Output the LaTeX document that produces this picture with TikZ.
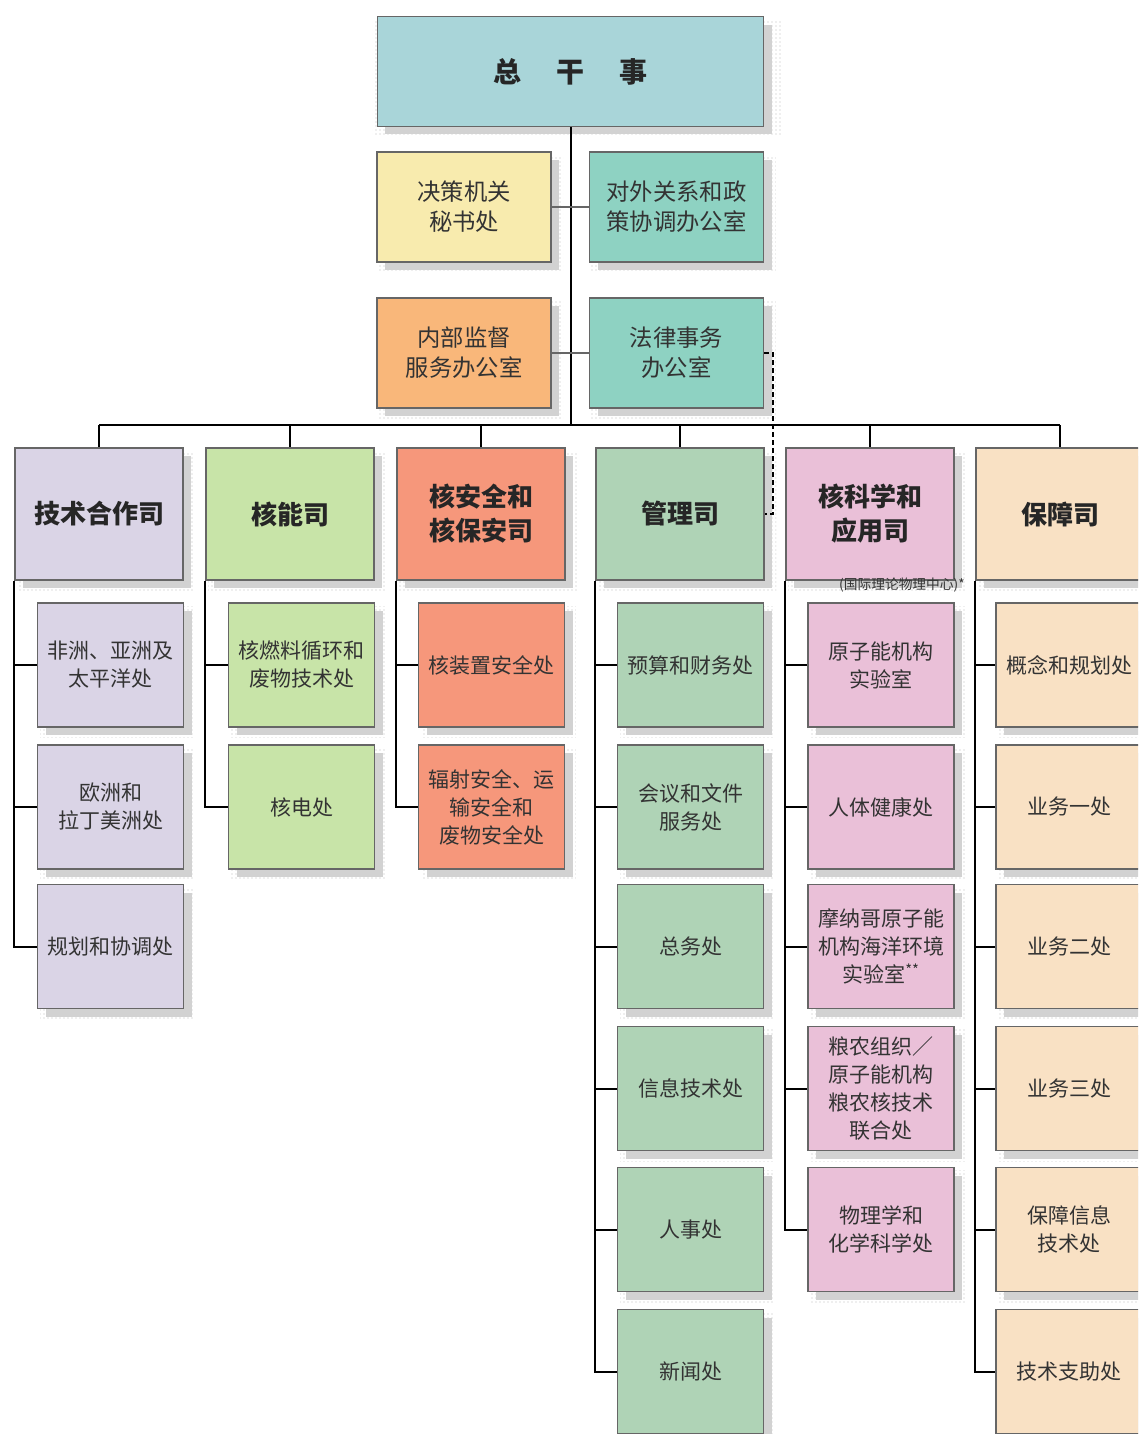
\documentclass[tikz,border=0pt]{standalone}
\usepackage{fontspec}
\setmainfont{Noto Sans CJK SC}
\usetikzlibrary{shadows,patterns}
\definecolor{cGM}{HTML}{A9D5D9}
\definecolor{cSec}{HTML}{F8EBAE}
\definecolor{cExt}{HTML}{8ED2C2}
\definecolor{cIOS}{HTML}{F9B77A}
\definecolor{cTC}{HTML}{DAD4E6}
\definecolor{cNE}{HTML}{C8E4A8}
\definecolor{cNS}{HTML}{F6977B}
\definecolor{cMT}{HTML}{AFD3B6}
\definecolor{cNA}{HTML}{EAC0D8}
\definecolor{cSG}{HTML}{F9E1C4}
\definecolor{cLine}{HTML}{666666}
\definecolor{cTxt}{HTML}{333333}
\begin{document}
\begin{tikzpicture}[x=0.75pt,y=-0.75pt,
  box/.style={draw=cLine, line width=0.9pt, inner sep=2pt, align=center, text=cTxt,
    general shadow={shadow scale=1.06, shadow xshift=5pt, shadow yshift=-5pt, pattern=dots, pattern color=gray!55},
    drop shadow={shadow xshift=6pt, shadow yshift=-6pt, fill=gray!35, opacity=1}},
  topbox/.style={box, minimum width=130.5pt, minimum height=82.5pt, font=\fontsize{17.5}{22.5}\selectfont},
  dept/.style={box, text=black!85, minimum width=126pt, minimum height=99pt, font=\fontsize{19.5}{25.5}\selectfont\bfseries},
  sub/.style={box, minimum width=109.5pt, minimum height=93pt, font=\fontsize{15.75}{21}\selectfont},
  conn/.style={line width=1.5pt, black},
  side/.style={line width=2.2pt, cLine},
  note/.style={font=\fontsize{10.3}{12}\selectfont, text=cTxt, inner sep=0pt}
]
\useasboundingbox (0,0) rectangle (1138,1434);
\clip (0,0) rectangle (1138,1434);

% top level
\node[box, minimum width=290pt, minimum height=82pt, fill=cGM, text=black!85, font=\fontsize{21}{24}\selectfont\bfseries] (gm) at (570.5,71.5) {总\hspace{1.25em}干\hspace{1.25em}事};
\node[topbox, fill=cSec] (sec) at (464,207) {决策机关\\秘书处};
\node[topbox, fill=cExt] (ext) at (676.5,207) {对外关系和政\\策协调办公室};
\node[topbox, fill=cIOS] (ios) at (464,353) {内部监督\\服务办公室};
\node[topbox, fill=cExt] (leg) at (676.5,353) {法律事务\\办公室};

% departments
\node[dept, fill=cTC] (d1) at (99,514) {技术合作司};
\node[dept, fill=cNE] (d2) at (290,514) {核能司};
\node[dept, fill=cNS] (d3) at (481,514) {核安全和\\核保安司};
\node[dept, fill=cMT] (d4) at (680,514) {管理司};
\node[dept, fill=cNA] (d5) at (870,514) {核科学和\\应用司};
\node[dept, fill=cSG] (d6) at (1060,514) {保障司};
\node[note, anchor=east] (icpt) at (965,585) {(国际理论物理中心)*};

% technical cooperation
\node[sub, fill=cTC] (c11) at (110.5,665) {非洲、亚洲及\\太平洋处};
\node[sub, fill=cTC] (c12) at (110.5,807) {欧洲和\\拉丁美洲处};
\node[sub, fill=cTC] (c13) at (110.5,946.5) {规划和协调处};
% nuclear energy
\node[sub, fill=cNE] (c21) at (301.5,665) {核燃料循环和\\废物技术处};
\node[sub, fill=cNE] (c22) at (301.5,807) {核电处};
% safety and security
\node[sub, fill=cNS] (c31) at (491.5,665) {核装置安全处};
\node[sub, fill=cNS] (c32) at (491.5,807) {辐射安全、运\\输安全和\\废物安全处};
% management
\node[sub, fill=cMT] (c41) at (690.5,665) {预算和财务处};
\node[sub, fill=cMT] (c42) at (690.5,807) {会议和文件\\服务处};
\node[sub, fill=cMT] (c43) at (690.5,946.5) {总务处};
\node[sub, fill=cMT] (c44) at (690.5,1088.5) {信息技术处};
\node[sub, fill=cMT] (c45) at (690.5,1229.5) {人事处};
\node[sub, fill=cMT] (c46) at (690.5,1371.5) {新闻处};
% nuclear sciences
\node[sub, fill=cNA] (c51) at (881,665) {原子能机构\\实验室};
\node[sub, fill=cNA] (c52) at (881,807) {人体健康处};
\node[sub, fill=cNA] (c53) at (881,946.5) {摩纳哥原子能\\机构海洋环境\\实验室\textsuperscript{**}};
\node[sub, fill=cNA] (c54) at (881,1088.5) {粮农组织／\\原子能机构\\粮农核技术\\联合处};
\node[sub, fill=cNA] (c55) at (881,1229.5) {物理学和\\化学科学处};
% safeguards
\node[sub, fill=cSG] (c61) at (1069,665) {概念和规划处};
\node[sub, fill=cSG] (c62) at (1069,807) {业务一处};
\node[sub, fill=cSG] (c63) at (1069,946.5) {业务二处};
\node[sub, fill=cSG] (c64) at (1069,1088.5) {业务三处};
\node[sub, fill=cSG] (c65) at (1069,1229.5) {保障信息\\技术处};
\node[sub, fill=cSG] (c66) at (1069,1371.5) {技术支助处};

% connectors
\coordinate (bus) at (570.5,425);
\draw[conn] (gm.south) -- (bus);
\draw[side] (sec.east) -- (ext.west);
\draw[side] (ios.east) -- (leg.west);
\draw[conn] (d1.north |- bus) -- (d6.north |- bus);
\foreach \d in {d1,d2,d3,d4,d5,d6} \draw[conn] (\d.north |- bus) -- (\d.north);
\draw[line width=1.3pt, dash pattern=on 4pt off 2pt] (leg.east) -- ++(9,0) |- (d4.east);

\foreach \c in {c11,c12,c13} \draw[conn] (d1.south west) |- (\c.west);
\foreach \c in {c21,c22} \draw[conn] (d2.south west) |- (\c.west);
\foreach \c in {c31,c32} \draw[conn] (d3.south west) |- (\c.west);
\foreach \c in {c41,c42,c43,c44,c45,c46} \draw[conn] (d4.south west) |- (\c.west);
\foreach \c in {c51,c52,c53,c54,c55} \draw[conn] (d5.south west) |- (\c.west);
\foreach \c in {c61,c62,c63,c64,c65,c66} \draw[conn] (d6.south west) |- (\c.west);
\end{tikzpicture}
\end{document}
